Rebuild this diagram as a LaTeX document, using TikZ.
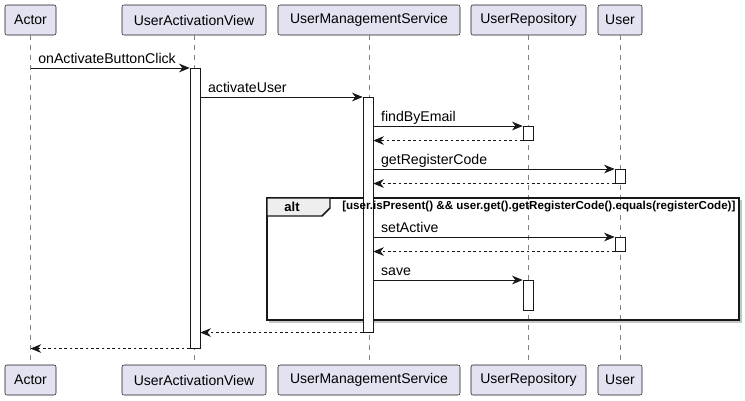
\documentclass[tikz,border=0pt]{standalone}
\usepackage{fontspec}
\setmainfont{Liberation Sans}
\usetikzlibrary{arrows.meta}
\definecolor{partfill}{HTML}{E2E2F0}
\definecolor{partline}{HTML}{181818}
\definecolor{tabfill}{HTML}{EEEEEE}

\begin{document}
\begin{tikzpicture}[x=0.75pt, y=-0.75pt,
    part/.style = {draw=partline, fill=partfill, rounded corners=1.5pt, inner sep=0pt,
                   minimum height=22.5pt, font=\fontsize{10.5}{12}\selectfont},
    life/.style = {draw=gray, dash pattern=on 3.75pt off 3.75pt, line width=0.5pt},
    act/.style  = {draw=partline, fill=white, inner sep=0pt, minimum width=7.5pt, anchor=north},
    msg/.style  = {draw=partline, line width=0.75pt, -{Stealth[length=8pt, width=6.5pt, inset=2.5pt]}},
    ret/.style  = {msg, dash pattern=on 2pt off 2pt},
    lbl/.style  = {font=\fontsize{10.6}{12}\selectfont, anchor=base west, inner sep=0pt,
                   pos=0, xshift=5.5pt, yshift=3.75pt}
  ]
  \useasboundingbox (0,0) rectangle (745,400);

  % participants, top and bottom
  \node[part, minimum width=38.25pt]  (actor)  at (30.5,20)  {Actor};
  \node[part, minimum width=108pt]    (view)   at (194,20)   {UserActivationView};
  \node[part, minimum width=136.5pt]  (service) at (369,20)  {UserManagementService};
  \node[part, minimum width=86.25pt]  (repo)   at (528.5,20) {UserRepository};
  \node[part, minimum width=33pt]     (user)   at (620,20)   {User};

  \node[part, minimum width=38.25pt]  (actorb)  at (30.5,380)  {Actor};
  \node[part, minimum width=108pt]    (viewb)   at (194,380)   {UserActivationView};
  \node[part, minimum width=136.5pt]  (serviceb) at (369,380)  {UserManagementService};
  \node[part, minimum width=86.25pt]  (repob)   at (528.5,380) {UserRepository};
  \node[part, minimum width=33pt]     (userb)   at (620,380)   {User};

  % lifelines
  \path[life] (actor.south) edge (actorb.north)
              (view.south) edge (viewb.north)
              (service.south) edge (serviceb.north)
              (repo.south) edge (repob.north)
              (user.south) edge (userb.north);

  % alt frame
  \draw[gray!45, line width=1.2pt] (739,200.5) -- (741,200.5) -- (741,322) -- (269.5,322) -- (269.5,320);
  \draw[partline, line width=1.1pt] (267,198) rectangle (739,320);
  \draw[partline, fill=tabfill, line width=1.1pt]
    (267,198) -- (330,198) -- (330,208) -- (322,216) -- (267,216) -- cycle;
  \node[font=\bfseries\fontsize{9.75}{11}\selectfont] (alt) at (292,207) {alt};

  % activations
  \node[act, minimum height=210pt]   (viewact)  at (195,68)  {};
  \node[act, minimum height=176.25pt] (serviceact) at (368,97) {};
  \node[act, minimum height=10.5pt]  (repoact1) at (528,126) {};
  \node[act, minimum height=10.5pt]  (useract1) at (620,169) {};
  \node[act, minimum height=10.5pt]  (useract2) at (620,237) {};
  \node[act, minimum height=22.5pt]  (repoact2) at (528,280) {};

  \node[font=\bfseries\fontsize{8.7}{10}\selectfont, anchor=west, inner sep=0pt] (guard) at (342,207)
    {[user.isPresent() \&\& user.get().getRegisterCode().equals(registerCode)]};

  % messages
  \path (actor |- viewact.north) edge[msg] node[lbl] {onActivateButtonClick} (viewact.north west)
        (viewact.east |- serviceact.north) edge[msg] node[lbl] {activateUser} (serviceact.north west)
        (serviceact.east |- repoact1.north) edge[msg] node[lbl] {findByEmail} (repoact1.north west)
        (repoact1.south west) edge[ret] (serviceact.east |- repoact1.south)
        (serviceact.east |- useract1.north) edge[msg] node[lbl] {getRegisterCode} (useract1.north west)
        (useract1.south west) edge[ret] (serviceact.east |- useract1.south)
        (serviceact.east |- useract2.north) edge[msg] node[lbl] {setActive} (useract2.north west)
        (useract2.south west) edge[ret] (serviceact.east |- useract2.south)
        (serviceact.east |- repoact2.north) edge[msg] node[lbl] {save} (repoact2.north west)
        (serviceact.south west) edge[ret] (viewact.east |- serviceact.south)
        (viewact.south west) edge[ret] (actor |- viewact.south)
  ;
\end{tikzpicture}
\end{document}
